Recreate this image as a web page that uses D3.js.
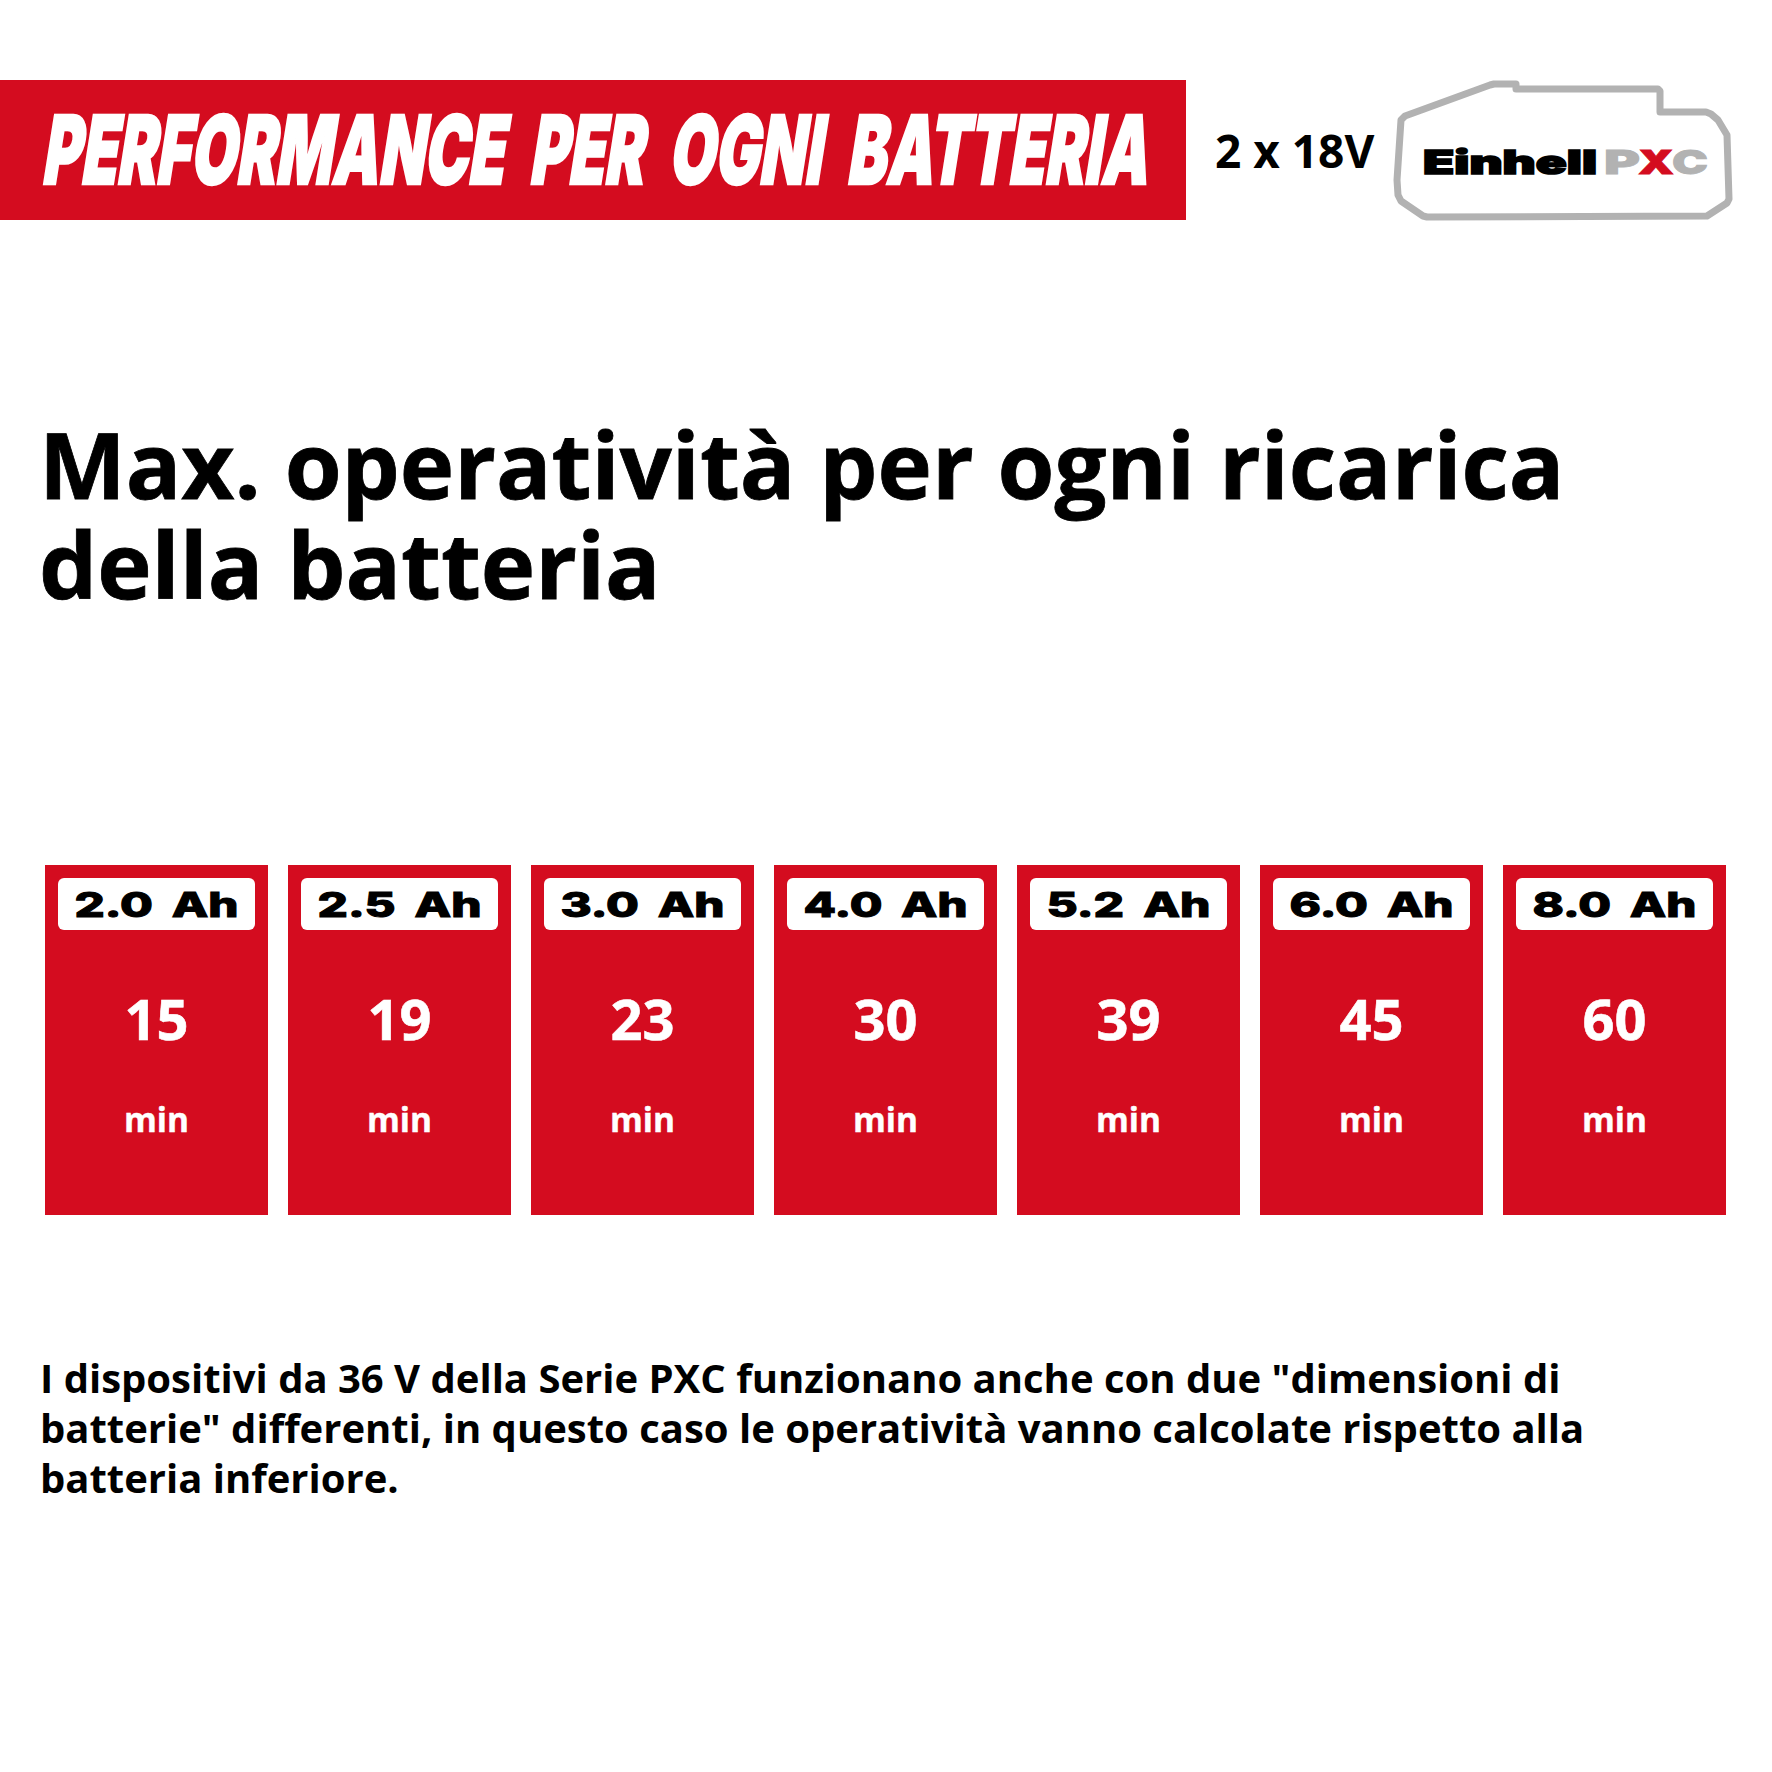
<!DOCTYPE html>
<html>
<head>
<meta charset="utf-8">
<title>Max. operatività</title>
<script src="https://d3js.org/d3.v7.min.js"></script>
<style>
  html, body { margin: 0; padding: 0; background: #fff; }
  svg { display: block; }
  text { font-family: "Open Sans", sans-serif; font-weight: 700; }
</style>
</head>
<body>
<svg id="chart" width="1772" height="1772"></svg>
<script>
// values
var capacities = ["2.0 Ah", "2.5 Ah", "3.0 Ah", "4.0 Ah", "5.2 Ah", "6.0 Ah", "8.0 Ah"];
var minutes = [15, 19, 23, 30, 39, 45, 60];
var unit = "min";
var banner = "PERFORMANCE PER OGNI BATTERIA";
var voltage = "2 x 18V";
var titleLines = ["Max. operatività per ogni ricarica", "della batteria"];
var noteLines = [
  'I dispositivi da 36 V della Serie PXC funzionano anche con due "dimensioni di',
  'batterie" differenti, in questo caso le operatività vanno calcolate rispetto alla',
  'batteria inferiore.'
];
var pxcLetters = ["P", "X", "C"];
var batteryOutline = [
  [1494, 84], [1516, 84], [1516, 89], [1658, 89], [1660, 91], [1660, 112], [1706, 112], [1711, 114],
  [1718, 120], [1727, 135], [1729, 199], [1727, 203], [1707, 216], [1427, 217], [1423, 216],
  [1401, 201], [1398, 195], [1397, 180], [1401, 120], [1405, 116], [1490, 85]
];

var red = "#d40c1f";
var grey = "#b2b2b2";
var svg = d3.select("#chart");

// banner
svg.append("rect").attr("x", 0).attr("y", 80).attr("width", 1186).attr("height", 140).attr("fill", red);
var bannerText = svg.append("text")
  .style("font-family", "Inter")
  .style("font-weight", 900)
  .style("font-size", "95px")
  .style("word-spacing", "22px")
  .attr("fill", "#fff")
  .attr("stroke", "#fff")
  .attr("stroke-width", 2.5)
  .text(banner);
// squeeze the heavy face to the condensed width of the original
var bannerScale = 1106 / bannerText.node().getComputedTextLength();
bannerText.attr("transform", "translate(41,184) skewX(-9) scale(" + bannerScale + ",1)");

svg.append("text")
  .attr("x", 1215).attr("y", 168)
  .style("font-size", "46px")
  .attr("fill", "#000")
  .text(voltage);

// battery logo
svg.append("path")
  .attr("d", d3.line()(batteryOutline) + "Z")
  .attr("fill", "#fff")
  .attr("stroke", grey)
  .attr("stroke-width", 7)
  .attr("stroke-linejoin", "round");

svg.append("text")
  .attr("x", 1423).attr("y", 174)
  .attr("textLength", 174)
  .attr("lengthAdjust", "spacingAndGlyphs")
  .style("font-family", "Inter")
  .style("font-weight", 900)
  .style("font-size", "33px")
  .attr("fill", "#000")
  .attr("stroke", "#000")
  .attr("stroke-width", 1.6)
  .text("Einhell");

svg.append("g").selectAll("text")
  .data(pxcLetters)
  .join("text")
  .attr("x", function(d, i) { return 1604 + i * 34; })
  .attr("y", 174)
  .attr("textLength", 36)
  .attr("lengthAdjust", "spacingAndGlyphs")
  .style("font-family", "Inter")
  .style("font-weight", 900)
  .style("font-size", "33px")
  .attr("fill", function(d) { return d == "X" ? red : grey; })
  .attr("stroke", function(d) { return d == "X" ? red : grey; })
  .attr("stroke-width", 0.8)
  .text(function(d) { return d; });

// heading
svg.append("g").selectAll("text")
  .data(titleLines)
  .join("text")
  .attr("x", 39)
  .attr("y", function(d, i) { return 499 + i * 100; })
  .style("font-size", "92px")
  .attr("fill", "#000")
  .attr("stroke", "#000")
  .attr("stroke-width", 0.8)
  .text(function(d) { return d; });

// cards
var x = d3.scaleBand()
  .domain(capacities)
  .range([45, 1726])
  .paddingInner(0.0823);

var cards = svg.append("g").selectAll("g")
  .data(capacities)
  .join("g")
  .attr("transform", function(d) { return "translate(" + x(d) + ",865)"; });

cards.append("rect")
  .attr("width", x.bandwidth())
  .attr("height", 350)
  .attr("fill", red);

cards.append("rect")
  .attr("x", 13).attr("y", 13)
  .attr("width", x.bandwidth() - 26)
  .attr("height", 52)
  .attr("rx", 6)
  .attr("fill", "#fff");

cards.append("text")
  .attr("x", x.bandwidth() / 2)
  .attr("y", 52)
  .attr("text-anchor", "middle")
  .attr("textLength", 164)
  .attr("lengthAdjust", "spacingAndGlyphs")
  .style("font-family", "Inter")
  .style("font-weight", 800)
  .style("font-size", "34px")
  .style("word-spacing", "6px")
  .attr("stroke", "#000")
  .attr("stroke-width", 1)
  .attr("fill", "#000")
  .text(function(d) { return d; });

cards.append("text")
  .attr("x", x.bandwidth() / 2)
  .attr("y", 175)
  .attr("text-anchor", "middle")
  .style("font-size", "56px")
  .attr("fill", "#fff")
  .attr("stroke", "#fff")
  .attr("stroke-width", 0.6)
  .text(function(d, i) { return minutes[i]; });

cards.append("text")
  .attr("x", x.bandwidth() / 2)
  .attr("y", 267)
  .attr("text-anchor", "middle")
  .style("font-size", "33.5px")
  .attr("fill", "#fff")
  .attr("stroke", "#fff")
  .attr("stroke-width", 0.4)
  .text(unit);

// note
svg.append("g").selectAll("text")
  .data(noteLines)
  .join("text")
  .attr("x", 40)
  .attr("y", function(d, i) { return 1392.5 + i * 50; })
  .style("font-size", "40px")
  .attr("fill", "#000")
  .text(function(d) { return d; });
</script>
</body>
</html>
